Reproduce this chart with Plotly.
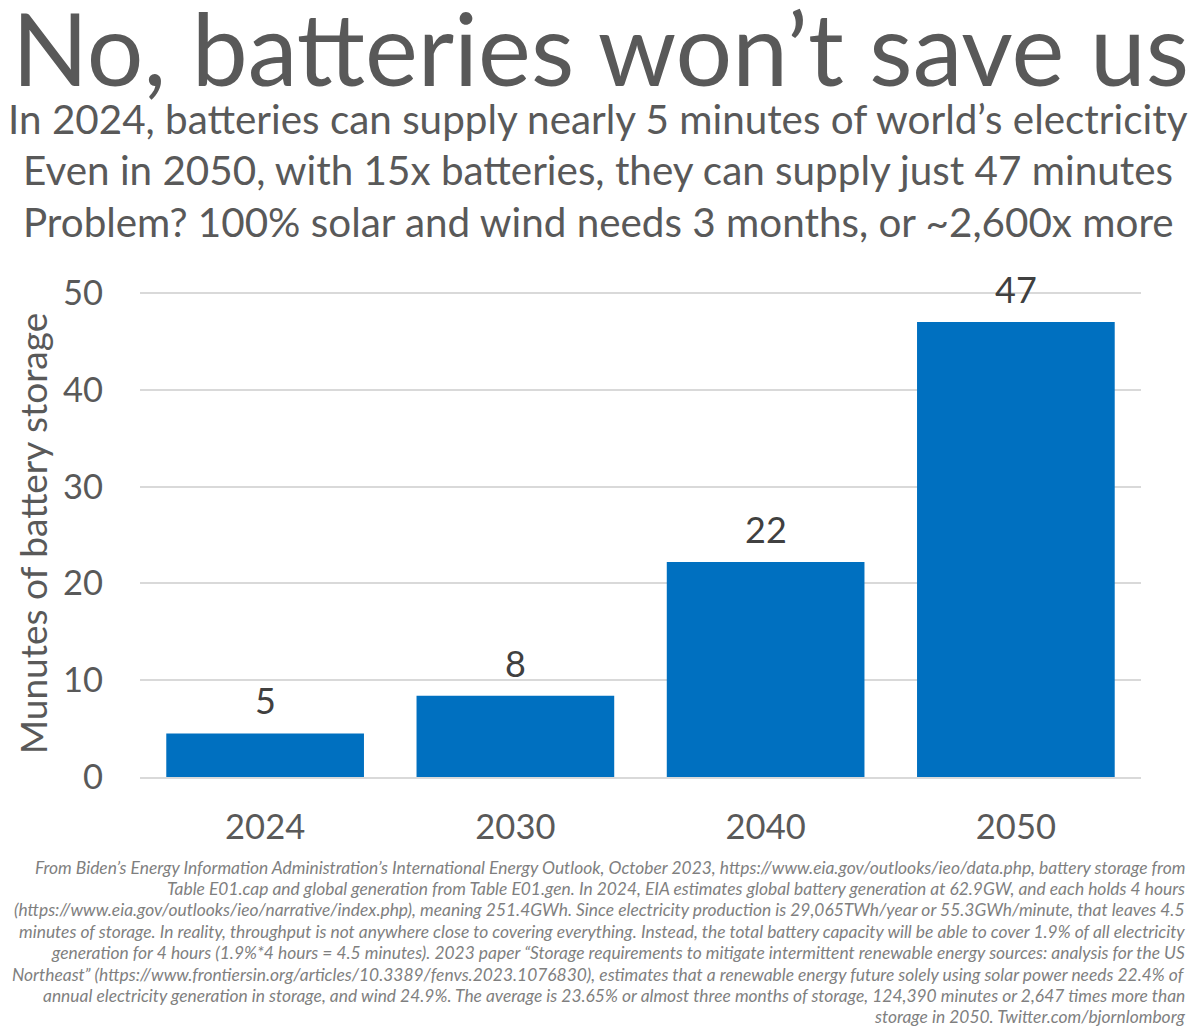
import plotly.graph_objects as go

years = ["2024", "2030", "2040", "2050"]
minutes = [4.5, 8.4, 22.2, 47.0]
labels = ["5", "8", "22", "47"]
title = "No, batteries won’t save us"
subtitle = ["In 2024, batteries can supply nearly 5 minutes of world’s electricity",
            "Even in 2050, with 15x batteries, they can supply just 47 minutes",
            "Problem? 100% solar and wind needs 3 months, or ~2,600x more"]
foot = ["From Biden’s Energy Information Administration’s International Energy Outlook, October 2023, https://www.eia.gov/outlooks/ieo/data.php, battery storage from",
        "Table E01.cap and global generation from Table E01.gen. In 2024, EIA estimates global battery generation at 62.9GW, and each holds 4 hours",
        "(https://www.eia.gov/outlooks/ieo/narrative/index.php), meaning 251.4GWh. Since electricity production is 29,065TWh/year or 55.3GWh/minute, that leaves 4.5",
        "minutes of storage. In reality, throughput is not anywhere close to covering everything. Instead, the total battery capacity will be able to cover 1.9% of all electricity",
        "generation for 4 hours (1.9%*4 hours = 4.5 minutes). 2023 paper “Storage requirements to mitigate intermittent renewable energy sources: analysis for the US",
        "Northeast” (https://www.frontiersin.org/articles/10.3389/fenvs.2023.1076830), estimates that a renewable energy future solely using solar power needs 22.4% of",
        "annual electricity generation in storage, and wind 24.9%. The average is 23.65% or almost three months of storage, 124,390 minutes or 2,647 times more than",
        "storage in 2050. Twitter.com/bjornlomborg"]
FONT = "Lato"
GREY = "#595959"

fig = go.Figure(go.Bar(x=years, y=minutes, marker=dict(color="#0070C0", line_width=0), width=0.79))
for i, (v, lab) in enumerate(zip(minutes, labels)):
    fig.add_annotation(x=i, y=v, text=lab, xref="x", yref="y", yanchor="bottom", yshift=9, showarrow=False,
                       font=dict(family=FONT, size=36, color="#404040"))

def add(text, xp, yp, size, anchor="center", color=GREY, italic=False):
    fig.add_annotation(text=f"<i>{text}</i>" if italic else text, xref="paper", yref="paper",
                       x=(xp - 140) / 1001, y=(777 - yp) / 487, xanchor=anchor, yanchor="middle",
                       showarrow=False, font=dict(family=FONT, size=size, color=color))
add(title, 600, 47, 100)
for t, yp, in zip(subtitle, [118, 170, 222]):
    add(t, 598, yp, 40.4)
for i, t in enumerate(foot):
    add(t, 1187, 867 + i * 21.4, 17.4, "right", "#7f7f7f", True)

fig.update_layout(width=1192, height=1028, margin=dict(l=132, r=59, t=282, b=259, pad=0),
                  paper_bgcolor="white", plot_bgcolor="white", showlegend=False, bargap=0.21,
                  font=dict(family=FONT, color=GREY))
fig.update_xaxes(type="category", categoryorder="array", categoryarray=years, range=[-0.5, 3.5],
                 tickfont=dict(size=34.5, color=GREY), showgrid=False, ticks="",
                 showline=True, linecolor="#d9d9d9", linewidth=2, ticklabelstandoff=19)
fig.update_yaxes(range=[0, 50.31], tickvals=[0, 10, 20, 30, 40, 50], tickfont=dict(size=34.5, color=GREY),
                 gridcolor="#d9d9d9", gridwidth=2, zeroline=False, ticklabelstandoff=36,
                 title=dict(text="Munutes of battery storage", font=dict(size=37, color=GREY), standoff=4))
fig.write_html("out.html")
